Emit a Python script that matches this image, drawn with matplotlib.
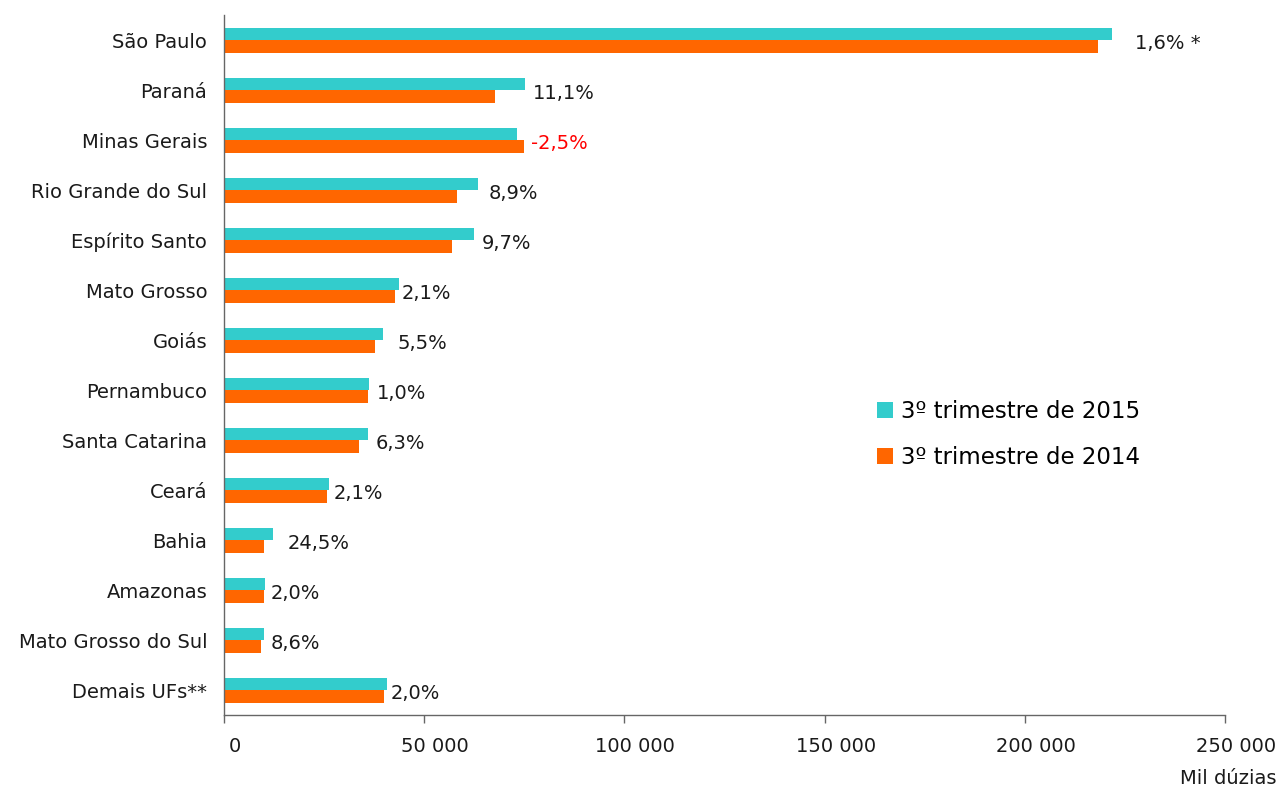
import matplotlib.pyplot as plt
import matplotlib.transforms as mtransforms
import numpy as np

# Produção por UF (mil dúzias), 3º trimestre
ufs = ["São Paulo", "Paraná", "Minas Gerais", "Rio Grande do Sul", "Espírito Santo",
       "Mato Grosso", "Goiás", "Pernambuco", "Santa Catarina", "Ceará", "Bahia",
       "Amazonas", "Mato Grosso do Sul", "Demais UFs**"]
tri_2015 = [221800, 75200, 73100, 63400, 62400, 43700, 39700, 36200, 36000, 26200,
            12300, 10200, 10000, 40700]
tri_2014 = [218300, 67700, 75000, 58200, 56900, 42800, 37700, 35900, 33800, 25700,
            9900, 10000, 9300, 40000]
variacao = ["1,6% *", "11,1%", "-2,5%", "8,9%", "9,7%", "2,1%", "5,5%", "1,0%",
            "6,3%", "2,1%", "24,5%", "2,0%", "8,6%", "2,0%"]
# gap (px) between bar end and its label
label_gap = [23, 8, 7, 11, 8, 3, 15, 8, 7, 5, 14, 6, 7, 4]

COR_2015 = "#33CCCC"
COR_2014 = "#FF6600"
TXT = "#1a1a1a"
FS = 14

plt.rcParams["font.family"] = ["DejaVu Sans"]

fig = plt.figure(figsize=(12.78, 7.90), dpi=100)
ax = fig.add_axes([224 / 1278, 75 / 790, 1001 / 1278, 700 / 790])

y = np.arange(len(ufs))
h = 0.25
ax.barh(y - h / 2, tri_2015, height=h, color=COR_2015, label="3º trimestre de 2015")
ax.barh(y + h / 2, tri_2014, height=h, color=COR_2014, label="3º trimestre de 2014")

for i, txt in enumerate(variacao):
    end = max(tri_2015[i], tri_2014[i])
    ax.annotate(txt, xy=(end, y[i] + 0.07), xytext=(label_gap[i] * 0.72, 0),
                textcoords="offset points", va="center", ha="left", fontsize=FS,
                color="#FF0000" if txt.startswith("-") else TXT)

ax.set_xlim(0, 250000)
ax.set_ylim(len(ufs) - 0.5, -0.5)
ax.set_yticks(y)
ax.set_yticklabels(ufs, fontsize=FS, color=TXT)
ax.tick_params(axis="y", length=0, pad=12)

ticks = np.arange(0, 250001, 50000)
ax.set_xticks(ticks)
ax.set_xticklabels([f"{t:,}".replace(",", " ") for t in ticks], fontsize=FS, color=TXT)
ax.tick_params(axis="x", length=6, width=1, color="#666666", pad=10)
# tick labels sit a little to the right of their ticks
offset = mtransforms.ScaledTranslation(11 / 100, 0, fig.dpi_scale_trans)
for lbl in ax.get_xticklabels():
    lbl.set_transform(lbl.get_transform() + offset)

for side in ["top", "right"]:
    ax.spines[side].set_visible(False)
for side in ["left", "bottom"]:
    ax.spines[side].set_color("#666666")
    ax.spines[side].set_linewidth(1)

ax.legend(loc="upper left", bbox_to_anchor=(0.643, 0.463), frameon=False,
          fontsize=16.5, handlelength=0.7, handleheight=0.7, handletextpad=0.35,
          labelspacing=1.0, borderaxespad=0)

fig.text(1276 / 1278, 1 - 778 / 790, "Mil dúzias", ha="right", va="center",
         fontsize=FS, color=TXT)

fig.savefig("out.png", dpi=100)
